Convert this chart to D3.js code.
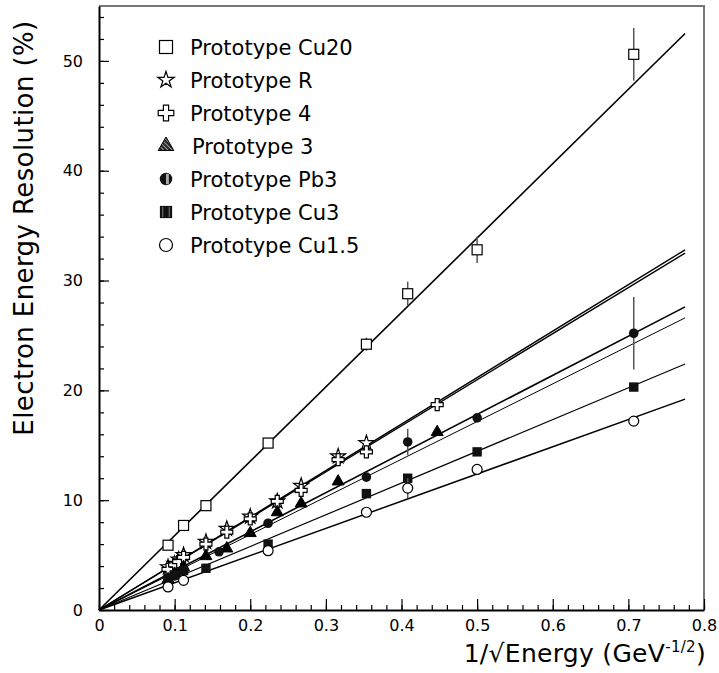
<!DOCTYPE html>
<html>
<head>
<meta charset="utf-8">
<script src="https://cdn.jsdelivr.net/npm/d3@7"></script>
<style>
  body { margin: 0; background: #fff; }
  svg text { font-family: "DejaVu Sans", sans-serif; fill: #000; }
</style>
</head>
<body>
<svg id="chart" width="719" height="673"></svg>
<script>
// values: x = 1/sqrt(E), y = resolution in %
var cu20X   = [0.0913, 0.1118, 0.1414, 0.2236, 0.3536, 0.4082, 0.5, 0.7071];
var cu20Y   = [5.9, 7.7, 9.5, 15.2, 24.2, 28.8, 32.8, 50.6];
var cu20Err = [0.2, 0.2, 0.2, 0.3, 0.6, 1.1, 1.2, 2.4];

var protoRX = [0.0913, 0.1, 0.1054, 0.1118, 0.1414, 0.169, 0.2, 0.2357, 0.2673, 0.3162, 0.3536];
var protoRY = [3.9, 4.2, 4.6, 5.0, 6.2, 7.4, 8.5, 9.9, 11.3, 14.0, 15.2];

var proto4X = [0.0913, 0.1, 0.1054, 0.1118, 0.1414, 0.169, 0.2, 0.2357, 0.2673, 0.3162, 0.3536, 0.4472];
var proto4Y = [3.7, 4.1, 4.4, 4.8, 6.0, 7.1, 8.3, 9.9, 10.9, 13.7, 14.4, 18.7];

var proto3X = [0.0913, 0.1, 0.1118, 0.1414, 0.169, 0.2, 0.2357, 0.2673, 0.3162, 0.4472];
var proto3Y = [2.8, 3.3, 3.9, 4.9, 5.6, 7.0, 8.9, 9.7, 11.7, 16.2];

var pb3X   = [0.0913, 0.1, 0.1118, 0.1587, 0.2236, 0.3536, 0.4082, 0.5, 0.7071];
var pb3Y   = [2.6, 3.1, 3.5, 5.3, 7.9, 12.1, 15.3, 17.5, 25.2];
var pb3Err = [0.1, 0.1, 0.1, 0.2, 0.3, 0.4, 1.2, 0.4, 3.3];

var cu3X = [0.0913, 0.1, 0.1118, 0.1414, 0.2236, 0.3536, 0.4082, 0.5, 0.7071];
var cu3Y = [2.9, 3.2, 3.6, 3.8, 6.0, 10.6, 12.0, 14.4, 20.3];

var cu15X   = [0.0913, 0.1118, 0.2236, 0.3536, 0.4082, 0.5, 0.7071];
var cu15Y   = [2.1, 2.7, 5.4, 8.9, 11.1, 12.8, 17.2];
var cu15Err = [0.1, 0.1, 0.2, 0.3, 0.9, 0.3, 0.4];

// straight-line fits through the origin, value at the end of the drawn line
var fitEndX = 0.775;
var fitEndY = {cu20: 52.5, protoR: 32.8, proto4: 32.5, proto3: 26.6, pb3: 27.6, cu3: 22.4, cu15: 19.2};

var legendNames = ['Prototype Cu20', 'Prototype R', 'Prototype 4', 'Prototype 3',
    'Prototype Pb3', 'Prototype Cu3', 'Prototype Cu1.5'];

var xTicks = [0, 0.1, 0.2, 0.3, 0.4, 0.5, 0.6, 0.7, 0.8];
var yTicks = [0, 10, 20, 30, 40, 50];

var svg = d3.select('#chart');
var x = d3.scaleLinear().domain([0, 0.8]).range([99, 704]);
var y = d3.scaleLinear().domain([0, 55]).range([610, 6]);

var defs = svg.append('defs');
var hatch = defs.append('pattern')
    .attr('id', 'hatch').attr('patternUnits', 'userSpaceOnUse')
    .attr('width', 3).attr('height', 3)
    .attr('patternTransform', 'rotate(45)');
hatch.append('rect').attr('width', 3).attr('height', 3).attr('fill', '#222');
hatch.append('line').attr('x1', 0).attr('y1', 1.5).attr('x2', 3).attr('y2', 1.5)
    .attr('stroke', '#bbb').attr('stroke-width', 0.8);

// frame: top and right in grey
svg.append('path')
    .attr('d', 'M' + x(0) + ',' + y(55) + 'H' + x(0.8) + 'V' + y(0))
    .attr('fill', 'none').attr('stroke', '#777').attr('stroke-width', 2);

// minor ticks
svg.append('g')
    .attr('transform', 'translate(0,' + y(0) + ')')
    .call(d3.axisBottom(x).tickValues(d3.range(0, 0.801, 0.02)).tickSize(-5).tickSizeOuter(0).tickFormat(''))
    .call(function(g) { g.select('.domain').remove(); });
svg.append('g')
    .attr('transform', 'translate(' + x(0) + ',0)')
    .call(d3.axisLeft(y).tickValues(d3.range(0, 55, 2)).tickSize(-5).tickSizeOuter(0).tickFormat(''))
    .call(function(g) { g.select('.domain').remove(); });

// major ticks + labels
var xAxis = svg.append('g')
    .attr('transform', 'translate(0,' + y(0) + ')')
    .call(d3.axisBottom(x).tickValues(xTicks).tickSize(-11).tickSizeOuter(0).tickPadding(10)
        .tickFormat(function(d) { return d === 0 ? '0' : d3.format('.1f')(d); }));
var yAxis = svg.append('g')
    .attr('transform', 'translate(' + x(0) + ',0)')
    .call(d3.axisLeft(y).tickValues(yTicks).tickSize(-10).tickSizeOuter(0).tickPadding(16));

svg.selectAll('.tick line').attr('stroke', '#000').attr('stroke-width', 1.2);
svg.selectAll('.tick text').attr('font-size', 16).attr('font-family', 'DejaVu Sans');
xAxis.select('.domain').attr('stroke-width', 2);
yAxis.select('.domain').attr('stroke-width', 2);

// axis titles
svg.append('text')
    .attr('transform', 'translate(33,' + 228 + ') rotate(-90)')
    .attr('text-anchor', 'middle')
    .attr('font-size', 26)
    .attr('letter-spacing', 0.4)
    .text('Electron Energy Resolution (%)');

var xt = svg.append('text')
    .attr('x', 706).attr('y', 662)
    .attr('text-anchor', 'end')
    .attr('font-size', 25)
    .attr('letter-spacing', 0.3);
xt.append('tspan').text('1/\u221AEnergy (GeV');
xt.append('tspan').attr('font-size', 15).attr('dy', -10).text('-1/2');
xt.append('tspan').attr('dy', 10).text(')');

// fit lines
var fits = [
    {k: 'cu20', w: 1.6}, {k: 'protoR', w: 1.4}, {k: 'proto4', w: 1.4}, {k: 'proto3', w: 1},
    {k: 'pb3', w: 1.6}, {k: 'cu3', w: 1.2}, {k: 'cu15', w: 1.5}
];
svg.append('g').selectAll('line')
    .data(fits)
    .enter()
    .append('line')
    .attr('x1', x(0)).attr('y1', y(0))
    .attr('x2', x(fitEndX))
    .attr('y2', function(d) { return y(fitEndY[d.k]); })
    .attr('stroke', '#000')
    .attr('stroke-width', function(d) { return d.w; });

function zip(xs, ys, es) {
    return xs.map(function(v, i) { return {x: v, y: ys[i], e: es ? es[i] : 0}; });
}

var series = [
    {name: legendNames[0], shape: 'osquare', data: zip(cu20X, cu20Y, cu20Err)},
    {name: legendNames[1], shape: 'star', data: zip(protoRX, protoRY)},
    {name: legendNames[2], shape: 'cross', data: zip(proto4X, proto4Y)},
    {name: legendNames[3], shape: 'triangle', data: zip(proto3X, proto3Y)},
    {name: legendNames[4], shape: 'fcircle', data: zip(pb3X, pb3Y, pb3Err)},
    {name: legendNames[5], shape: 'fsquare', data: zip(cu3X, cu3Y)},
    {name: legendNames[6], shape: 'ocircle', data: zip(cu15X, cu15Y, cu15Err)}
];

function drawMarker(g, shape, s, legend) {
    if (shape === 'osquare') {
        g.append('rect').attr('x', -5 * s).attr('y', -5 * s).attr('width', 10 * s).attr('height', 10 * s)
            .attr('fill', '#fff').attr('stroke', '#000').attr('stroke-width', 1.2);
    } else if (shape === 'star') {
        g.append('path').attr('d', d3.symbol().type(d3.symbolStar).size(70 * s * s)())
            .attr('fill', '#fff').attr('stroke', '#000').attr('stroke-width', 1.2);
    } else if (shape === 'cross') {
        g.append('path').attr('d', d3.symbol().type(d3.symbolCross).size(80 * s * s)())
            .attr('fill', '#fff').attr('stroke', '#000').attr('stroke-width', 1.2);
    } else if (shape === 'triangle') {
        g.append('path').attr('d', d3.symbol().type(d3.symbolTriangle).size(62 * s * s)())
            .attr('fill', legend ? 'url(#hatch)' : '#000').attr('stroke', '#000').attr('stroke-width', 1);
    } else if (shape === 'fcircle') {
        g.append('circle').attr('r', 4.8 * s).attr('fill', '#111');
        if (legend) {
            g.append('rect').attr('x', 0).attr('y', -4 * s).attr('width', 2.2 * s).attr('height', 8 * s)
                .attr('fill', '#aaa');
        }
    } else if (shape === 'fsquare') {
        g.append('rect').attr('x', -4.7 * s).attr('y', -4.7 * s).attr('width', 9.4 * s).attr('height', 9.4 * s)
            .attr('fill', '#111');
        if (legend) {
            g.append('line').attr('x1', -2.5 * s).attr('x2', -2.5 * s).attr('y1', -4 * s).attr('y2', 4 * s)
                .attr('stroke', '#999').attr('stroke-width', 0.8);
            g.append('line').attr('x1', 2.5 * s).attr('x2', 2.5 * s).attr('y1', -4 * s).attr('y2', 4 * s)
                .attr('stroke', '#999').attr('stroke-width', 0.8);
        }
    } else if (shape === 'ocircle') {
        g.append('circle').attr('r', 5 * s).attr('fill', '#fff').attr('stroke', '#000').attr('stroke-width', 1.2);
    }
}

// error bars then markers
series.forEach(function(sr) {
    var grp = svg.append('g').attr('class', 'series');
    grp.selectAll('.err')
        .data(sr.data.filter(function(d) { return d.e > 0; }))
        .enter()
        .append('line')
        .attr('class', 'err')
        .attr('x1', function(d) { return x(d.x); })
        .attr('x2', function(d) { return x(d.x); })
        .attr('y1', function(d) { return y(d.y - d.e); })
        .attr('y2', function(d) { return y(d.y + d.e); })
        .attr('stroke', '#555').attr('stroke-width', 1.5);
    grp.selectAll('.pt')
        .data(sr.data)
        .enter()
        .append('g')
        .attr('class', 'pt')
        .attr('transform', function(d) { return 'translate(' + x(d.x) + ',' + y(d.y) + ')'; })
        .each(function() { drawMarker(d3.select(this), sr.shape, 1, false); });
});

// legend
var legend = svg.append('g').attr('class', 'legend');
series.forEach(function(sr, i) {
    var row = legend.append('g').attr('transform', 'translate(166,' + (47 + i * 33) + ')');
    drawMarker(row, sr.shape, sr.shape === 'star' ? 1.1 : 1.3, true);
    row.append('text')
        .attr('x', 24 + (sr.shape === 'triangle' ? 2 : 0))
        .attr('dy', '0.36em')
        .attr('font-size', 21)
        .text(sr.name);
});
</script>
</body>
</html>
